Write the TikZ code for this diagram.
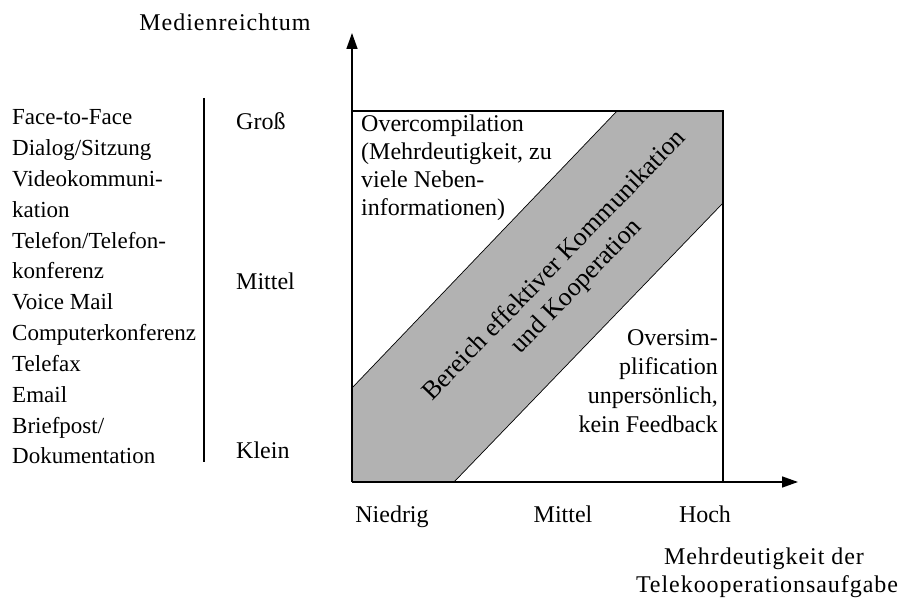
\documentclass[tikz,border=0pt]{standalone}
\usepackage{fontspec}
\setmainfont{Liberation Serif}
\newfontfamily\widefont[LetterSpace=4]{Liberation Serif}
\usetikzlibrary{arrows.meta}

\begin{document}
\begin{tikzpicture}[
  x=1pt, y=-1pt,
  every node/.style={inner sep=0pt, font=\fontsize{24}{28}\selectfont},
  listtext/.style={anchor=base west, font=\fontsize{23}{28}\selectfont},
  title/.style={anchor=base, font=\widefont\fontsize{24}{28}\selectfont},
  bandtext/.style={rotate=46, font=\fontsize{26}{32}\selectfont},
  axis/.style={line width=1.5pt, -{Triangle[length=16pt,width=11pt]}},
  frame/.style={line width=1.5pt},
  edge/.style={line width=0.7pt},
]
  \useasboundingbox (0,0) rectangle (906,599);

  % corners of the matrix
  \coordinate (o) at (352,482);
  \coordinate (tl) at (352,111);
  \coordinate (tr) at (723,111);
  \coordinate (br) at (723,482);
  \coordinate (ytip) at (352,33);
  \coordinate (xtip) at (798,482);
  \coordinate (ua) at (352,388);
  \coordinate (ub) at (617,111);
  \coordinate (la) at (454,482);
  \coordinate (lb) at (723,203);

  % band of effective communication
  \fill[black!30] (ua) -- (ub) -- (tr) -- (lb) -- (la) -- (o) -- cycle;
  \draw[edge] (ua) -- (ub);
  \draw[edge] (la) -- (lb);
  \draw[frame] (tl) -- (tr) -- (br);
  \draw[axis] (o) -- (ytip);
  \draw[axis] (o) -- (xtip);

  \node[bandtext] (band1) at (553,264) {Bereich effektiver Kommunikation};
  \node[bandtext] (band2) at (577,287) {und Kooperation};

  % axis titles
  \node[title] (ytitle) at (225,31) {Medienreichtum};
  \node[title] (xtitle1) at (764,564) {Mehrdeutigkeit der};
  \node[title] (xtitle2) at (767,592) {Telekooperationsaufgabe};

  % media list
  \foreach \txt [count=\i from 0] in {Face-to-Face, Dialog/Sitzung,
      Videokommuni-, kation, Telefon/Telefon-, konferenz, Voice Mail,
      Computerkonferenz, Telefax, Email, Briefpost/, Dokumentation}
    \node[listtext] (media\i) at (12,125+30.8*\i) {\txt};

  \coordinate (sepa) at (204,98);
  \coordinate (sepb) at (204,462);
  \draw[line width=1.2pt] (sepa) -- (sepb);

  % richness levels
  \node[anchor=base west] (gross) at (236,130) {Groß};
  \node[anchor=base west] (mittely) at (236,290) {Mittel};
  \node[anchor=base west] (klein) at (236,458) {Klein};

  % ambiguity levels
  \node[anchor=base] (niedrig) at (392,522) {Niedrig};
  \node[anchor=base] (mittelx) at (563,522) {Mittel};
  \node[anchor=base] (hoch) at (705,522) {Hoch};

  % regions
  \foreach \txt [count=\i from 0] in {Overcompilation, {(Mehrdeutigkeit, zu},
      viele Neben-, informationen)}
    \node[anchor=base west] (over\i) at (361,132+28*\i) {\txt};
  \foreach \txt [count=\i from 0] in {Oversim-, plification,
      unpersönlich{,}, kein Feedback}
    \node[anchor=base east] (simp\i) at (718,345+29*\i) {\txt};
\end{tikzpicture}
\end{document}
